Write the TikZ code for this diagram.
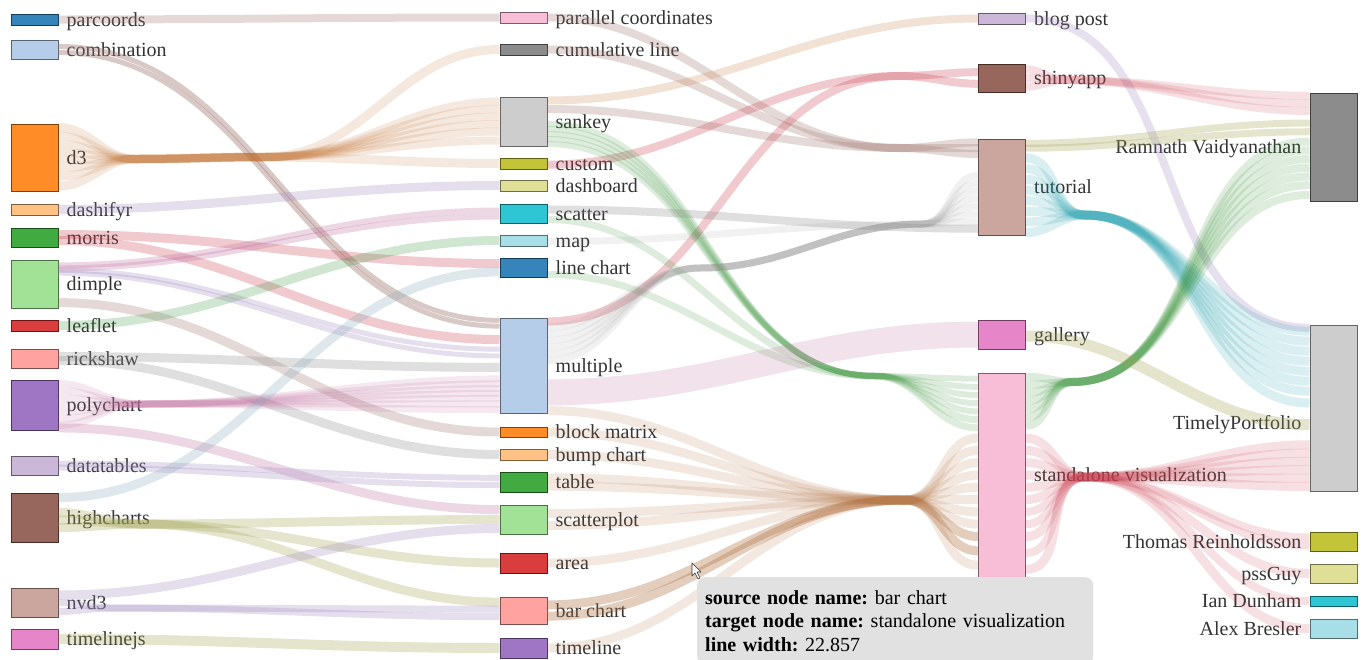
\documentclass[tikz,border=0pt]{standalone}
\usepackage{fontspec}
\setmainfont{Liberation Serif}
\usetikzlibrary{calc}
\frenchspacing
% node colours
\definecolor{c1}{HTML}{1F77B4}
\definecolor{c2}{HTML}{AEC7E8}
\definecolor{c3}{HTML}{FF7F0E}
\definecolor{c4}{HTML}{FFBB78}
\definecolor{c5}{HTML}{2CA02C}
\definecolor{c6}{HTML}{98DF8A}
\definecolor{c7}{HTML}{D62728}
\definecolor{c8}{HTML}{FF9896}
\definecolor{c9}{HTML}{9467BD}
\definecolor{c10}{HTML}{C5B0D5}
\definecolor{c11}{HTML}{8C564B}
\definecolor{c12}{HTML}{C49C94}
\definecolor{c13}{HTML}{E377C2}
\definecolor{c14}{HTML}{F7B6D2}
\definecolor{c15}{HTML}{7F7F7F}
\definecolor{c16}{HTML}{C7C7C7}
\definecolor{c17}{HTML}{BCBD22}
\definecolor{c18}{HTML}{DBDB8D}
\definecolor{c19}{HTML}{17BECF}
\definecolor{c20}{HTML}{9EDAE5}
% link colours
\definecolor{lktaupe}{HTML}{A07870}
\definecolor{lkorange}{HTML}{C07030}
\definecolor{lkpurple}{HTML}{A088C0}
\definecolor{lkpink}{HTML}{C070A0}
\definecolor{lkred}{HTML}{C84050}
\definecolor{lkgreen}{HTML}{2E8B2E}
\definecolor{lkgray}{HTML}{8C8C8C}
\definecolor{lkblue}{HTML}{88AABB}
\definecolor{lkolive}{HTML}{A0A050}
\definecolor{lkcyan}{HTML}{1A9AA8}
\definecolor{lkbrown}{HTML}{B07040}
\definecolor{tipgray}{HTML}{E1E1E1}
\tikzset{
    %Define style for node boxes
    box/.style={
           rectangle,
           draw=#1!50!black, line width=1pt,
           fill=#1!90,
           minimum width=47pt,
           inner sep=0pt},
    %Define style for node names
    lbl/.style={
           font=\fontsize{20}{24}\selectfont,
           text=black!80,
           inner sep=0pt,
           text height=1.4em,
           text depth=0.1em},
    % Define link styles
    flow/.style={draw=#1, draw opacity=0.28, line cap=butt},
    fanflow/.style={draw=#1, draw opacity=0.16, line cap=butt},
    % Define style for the tooltip
    tip/.style={
           rectangle,
           rounded corners=8pt,
           fill=tipgray,
           font=\fontsize{20}{23.5}\selectfont,
           text width=380pt,
           align=left,
           inner xsep=8pt,
           inner ysep=13pt},
}
% link from node to node
\newcommand\band[5][]{%
  \draw[#1] ($(#2.north east)!#3!(#2.south east)$) to[out=0,in=180]
    ($(#4.north west)!#5!(#4.south west)$);}
% link through one bundle point
\newcommand\strand[6][]{%
  \draw[#1] ($(#2.north east)!#3!(#2.south east)$) to[out=0,in=180] (#4)
    to[out=0,in=180] ($(#5.north west)!#6!(#5.south west)$);}
% link through two bundle points
\newcommand\strandd[7][]{%
  \draw[#1] ($(#2.north east)!#3!(#2.south east)$) to[out=0,in=180] (#4)
    to[out=0,in=180] (#5) to[out=0,in=180] ($(#6.north west)!#7!(#6.south west)$);}

\begin{document}
\begin{tikzpicture}[x=1pt, y=-1pt, label distance=8pt]
  \useasboundingbox (0,0) rectangle (1362,659);
  % libraries
  \node[box=c1, minimum height=11pt, label={[lbl]right:parcoords}] (parcoords) at (34.5,19.5) {};
  \node[box=c2, minimum height=19pt, label={[lbl]right:combination}] (combination) at (34.5,49.5) {};
  \node[box=c3, minimum height=67pt, label={[lbl]right:d3}] (d3) at (34.5,157.5) {};
  \node[box=c4, minimum height=11pt, label={[lbl]right:dashifyr}] (dashifyr) at (34.5,209.5) {};
  \node[box=c5, minimum height=19pt, label={[lbl]right:morris}] (morris) at (34.5,237.5) {};
  \node[box=c6, minimum height=48pt, label={[lbl]right:dimple}] (dimple) at (34.5,284) {};
  \node[box=c7, minimum height=11pt, label={[lbl]right:leaflet}] (leaflet) at (34.5,325.5) {};
  \node[box=c8, minimum height=19pt, label={[lbl]right:rickshaw}] (rickshaw) at (34.5,358.5) {};
  \node[box=c9, minimum height=50pt, label={[lbl]right:polychart}] (polychart) at (34.5,405) {};
  \node[box=c10, minimum height=19pt, label={[lbl]right:datatables}] (datatables) at (34.5,465.5) {};
  \node[box=c11, minimum height=49pt, label={[lbl]right:highcharts}] (highcharts) at (34.5,517.5) {};
  \node[box=c12, minimum height=29pt, label={[lbl]right:nvd3}] (nvd3) at (34.5,602.5) {};
  \node[box=c13, minimum height=20pt, label={[lbl]right:timelinejs}] (timelinejs) at (34.5,639) {};
  % chart types
  \node[box=c14, minimum height=11pt, label={[lbl]right:parallel coordinates}] (parallel) at (523.5,17.5) {};
  \node[box=c15, minimum height=11pt, label={[lbl]right:cumulative line}] (cumline) at (523.5,49.5) {};
  \node[box=c16, minimum height=49pt, label={[lbl]right:sankey}] (sankey) at (523.5,121.5) {};
  \node[box=c17, minimum height=11pt, label={[lbl]right:custom}] (custom) at (523.5,163.5) {};
  \node[box=c18, minimum height=11pt, label={[lbl]right:dashboard}] (dashboard) at (523.5,185.5) {};
  \node[box=c19, minimum height=19pt, label={[lbl]right:scatter}] (scatter) at (523.5,213.5) {};
  \node[box=c20, minimum height=11pt, label={[lbl]right:map}] (map) at (523.5,240.5) {};
  \node[box=c1, minimum height=19pt, label={[lbl]right:line chart}] (linechart) at (523.5,267.5) {};
  \node[box=c2, minimum height=95pt, label={[lbl]right:multiple}] (multiple) at (523.5,365.5) {};
  \node[box=c3, minimum height=10pt, label={[lbl]right:block matrix}] (blockmatrix) at (523.5,432) {};
  \node[box=c4, minimum height=11pt, label={[lbl]right:bump chart}] (bumpchart) at (523.5,454.5) {};
  \node[box=c5, minimum height=20pt, label={[lbl]right:table}] (table) at (523.5,482) {};
  \node[box=c6, minimum height=29pt, label={[lbl]right:scatterplot}] (scatterplot) at (523.5,519.5) {};
  \node[box=c7, minimum height=20pt, label={[lbl]right:area}] (area) at (523.5,563) {};
  \node[box=c8, minimum height=27pt, label={[lbl]right:bar chart}] (barchart) at (523.5,610.5) {};
  \node[box=c9, minimum height=20pt, label={[lbl]right:timeline}] (timeline) at (523.5,648) {};
  % kinds of post
  \node[box=c10, minimum height=11pt, label={[lbl]right:blog post}] (blogpost) at (1002,18.5) {};
  \node[box=c11, minimum height=28pt, label={[lbl]right:shinyapp}] (shinyapp) at (1002,78) {};
  \node[box=c12, minimum height=96pt, label={[lbl]right:tutorial}] (tutorial) at (1002,187) {};
  \node[box=c13, minimum height=29pt, label={[lbl]right:gallery}] (gallery) at (1002,334.5) {};
  \node[box=c14, minimum height=204pt, label={[lbl]right:standalone visualization}] (standalone) at (1002,475) {};
  % authors
  \node[box=c15, minimum height=108pt, label={[lbl]left:Ramnath Vaidyanathan}] (ramnath) at (1333.5,147) {};
  \node[box=c16, minimum height=166pt, label={[lbl,yshift=-15pt]left:TimelyPortfolio}] (timely) at (1333.5,408) {};
  \node[box=c17, minimum height=19pt, label={[lbl]left:Thomas Reinholdsson}] (thomas) at (1333.5,541.5) {};
  \node[box=c18, minimum height=19pt, label={[lbl]left:pssGuy}] (pssguy) at (1333.5,573.5) {};
  \node[box=c19, minimum height=10pt, label={[lbl]left:Ian Dunham}] (ian) at (1333.5,601) {};
  \node[box=c20, minimum height=19pt, label={[lbl]left:Alex Bresler}] (alex) at (1333.5,628.5) {};

  % bundle points
  \coordinate (bdthree) at (135,159);
  \coordinate (bdthreeb) at (265,157);
  \coordinate (bpoly) at (140,404);
  \coordinate (bhigh) at (140,524);
  \coordinate (bnvd) at (110,608);
  \coordinate (btaupe) at (900,148);
  \coordinate (bshiny) at (900,76);
  \coordinate (bgreen) at (875,376);
  \coordinate (bgray) at (700,268);
  \coordinate (bgrayb) at (922,224);
  \coordinate (bbrown) at (905,500);
  \coordinate (bshinyb) at (1065,80);
  \coordinate (bcyan) at (1085,215);
  \coordinate (bgreenb) at (1072,382);
  \coordinate (bred) at (1085,477);

  % libraries -> chart types
  \band[flow=lktaupe, line width=8pt]{parcoords}{0.5}{parallel}{0.5}
  \band[flow=lktaupe, line width=5pt, draw opacity=0.4]{combination}{0.35}{multiple}{0.03}
  \band[flow=lktaupe, line width=5pt, draw opacity=0.4]{combination}{0.65}{multiple}{0.09}
  \strandd[fanflow=lkorange, line width=9pt]{d3}{0.06}{bdthree}{bdthreeb}{cumline}{0.5}
  \foreach \s/\t in {0.18/0.1,0.3/0.25,0.42/0.4,0.54/0.55,0.66/0.7,0.78/0.88}{
    \strandd[fanflow=lkorange, line width=8pt]{d3}{\s}{bdthree}{bdthreeb}{sankey}{\t}}
  \strandd[fanflow=lkorange, line width=9pt]{d3}{0.92}{bdthree}{bdthreeb}{custom}{0.5}
  \band[flow=lkpurple, line width=9pt]{dashifyr}{0.5}{dashboard}{0.5}
  \band[flow=lkred, line width=9pt]{morris}{0.35}{linechart}{0.3}
  \band[flow=lkred, line width=9pt]{morris}{0.65}{multiple}{0.23}
  \band[flow=lkpink, line width=6pt]{dimple}{0.12}{scatter}{0.35}
  \band[flow=lkpink, line width=6pt]{dimple}{0.18}{scatter}{0.65}
  \band[flow=lkpurple, line width=5pt]{dimple}{0.22}{multiple}{0.33}
  \band[flow=lkpurple, line width=5pt]{dimple}{0.28}{multiple}{0.4}
  \band[flow=lktaupe, line width=9pt]{dimple}{0.88}{blockmatrix}{0.5}
  \band[flow=lkgreen, line width=9pt, draw opacity=0.22]{leaflet}{0.5}{map}{0.5}
  \band[flow=lkgray, line width=9pt]{rickshaw}{0.4}{multiple}{0.52}
  \band[flow=lkgray, line width=9pt]{rickshaw}{0.6}{bumpchart}{0.5}
  \foreach \s/\t in {0.08/0.64,0.22/0.69,0.36/0.74,0.5/0.79,0.64/0.84,0.78/0.9,0.9/0.96}{
    \strand[fanflow=lkpink, line width=7pt]{polychart}{\s}{bpoly}{multiple}{\t}}
  \band[flow=lkpink, line width=9pt]{polychart}{0.95}{scatterplot}{0.17}
  \band[flow=lkpurple, line width=6pt]{datatables}{0.4}{table}{0.3}
  \band[flow=lkpurple, line width=6pt]{datatables}{0.6}{table}{0.65}
  \band[flow=lkblue, line width=9pt]{highcharts}{0.1}{linechart}{0.72}
  \strand[flow=lkolive, line width=9pt]{highcharts}{0.4}{bhigh}{scatterplot}{0.5}
  \strand[flow=lkolive, line width=9pt]{highcharts}{0.55}{bhigh}{area}{0.5}
  \strand[flow=lkolive, line width=9pt]{highcharts}{0.7}{bhigh}{barchart}{0.2}
  \band[flow=lkpurple, line width=9pt]{nvd3}{0.25}{scatterplot}{0.8}
  \strand[flow=lkpurple, line width=7pt]{nvd3}{0.5}{bnvd}{barchart}{0.45}
  \strand[flow=lkpurple, line width=7pt]{nvd3}{0.8}{bnvd}{barchart}{0.72}
  \band[flow=lkolive, line width=10pt]{timelinejs}{0.5}{timeline}{0.5}

  % chart types -> kinds of post
  \strand[flow=lktaupe, line width=8pt]{parallel}{0.5}{btaupe}{tutorial}{0.04}
  \strand[flow=lktaupe, line width=8pt]{cumline}{0.5}{btaupe}{tutorial}{0.1}
  \strand[flow=lktaupe, line width=8pt]{sankey}{0.25}{btaupe}{tutorial}{0.16}
  \band[flow=lkorange, line width=8pt, draw opacity=0.2]{sankey}{0.08}{blogpost}{0.5}
  \strand[flow=lkred, line width=8pt]{custom}{0.6}{bshiny}{shinyapp}{0.3}
  \strand[flow=lkred, line width=8pt]{multiple}{0.04}{bshiny}{shinyapp}{0.7}
  \foreach \s/\t in {0.55/0.03,0.65/0.07,0.75/0.11,0.85/0.15,0.95/0.19}{
    \strand[fanflow=lkgreen, line width=6pt]{sankey}{\s}{bgreen}{standalone}{\t}}
  \strand[fanflow=lkgreen, line width=7pt]{scatter}{0.8}{bgreen}{standalone}{0.23}
  \strand[fanflow=lkgreen, line width=7pt]{linechart}{0.85}{bgreen}{standalone}{0.27}
  \band[flow=lkgray, line width=8pt]{scatter}{0.3}{tutorial}{0.93}
  \foreach \s/\t in {0.1/0.38,0.17/0.46,0.24/0.54,0.31/0.62,0.38/0.7,0.45/0.78}{
    \strandd[fanflow=lkgray, line width=7pt, draw opacity=0.12]{multiple}{\s}{bgray}{bgrayb}{tutorial}{\t}}
  \strand[fanflow=lkgray, line width=7pt, draw opacity=0.12]{map}{0.6}{bgrayb}{tutorial}{0.86}
  \band[flow=lkpink, line width=26pt, draw opacity=0.2]{multiple}{0.78}{gallery}{0.5}
  \foreach \n/\s/\t in {multiple/0.97/0.32,blockmatrix/0.5/0.38,bumpchart/0.5/0.44,
      table/0.3/0.5,table/0.7/0.56,scatterplot/0.3/0.62,scatterplot/0.7/0.68,
      area/0.5/0.74,timeline/0.5/0.94}{
    \strand[fanflow=lkbrown, line width=9pt]{\n}{\s}{bbrown}{standalone}{\t}}
  \strand[fanflow=lkbrown, line width=9pt, draw opacity=0.35]{barchart}{0.3}{bbrown}{standalone}{0.8}
  \strand[fanflow=lkbrown, line width=9pt, draw opacity=0.35]{barchart}{0.7}{bbrown}{standalone}{0.87}

  % kinds of post -> authors
  \band[flow=lkpurple, line width=8pt, draw opacity=0.25]{blogpost}{0.5}{timely}{0.02}
  \foreach \s/\t in {0.2/0.03,0.5/0.1,0.8/0.17}{
    \strand[fanflow=lkred, line width=8pt]{shinyapp}{\s}{bshinyb}{ramnath}{\t}}
  \band[flow=lkolive, line width=7pt]{tutorial}{0.05}{ramnath}{0.28}
  \band[flow=lkolive, line width=7pt]{tutorial}{0.1}{ramnath}{0.36}
  \foreach \s/\t in {0.2/0.04,0.31/0.1,0.42/0.16,0.53/0.22,0.64/0.28,0.75/0.34,0.86/0.4,0.97/0.47}{
    \strand[fanflow=lkcyan, line width=9pt]{tutorial}{\s}{bcyan}{timely}{\t}}
  \foreach \s/\t in {0.02/0.45,0.06/0.53,0.1/0.61,0.14/0.69,0.18/0.77,0.22/0.85,0.26/0.94}{
    \strand[fanflow=lkgreen, line width=8pt]{standalone}{\s}{bgreenb}{ramnath}{\t}}
  \band[flow=lkolive, line width=11pt]{gallery}{0.55}{timely}{0.6}
  \foreach \s/\t in {0.32/0.72,0.38/0.77,0.44/0.82,0.5/0.87,0.56/0.92,0.62/0.97}{
    \strand[fanflow=lkred, line width=9pt]{standalone}{\s}{bred}{timely}{\t}}
  \strand[fanflow=lkred, line width=8pt]{standalone}{0.68}{bred}{thomas}{0.3}
  \strand[fanflow=lkred, line width=8pt]{standalone}{0.74}{bred}{thomas}{0.7}
  \strand[fanflow=lkred, line width=9pt]{standalone}{0.8}{bred}{pssguy}{0.5}
  \strand[fanflow=lkred, line width=8pt]{standalone}{0.88}{bred}{ian}{0.5}
  \strand[fanflow=lkred, line width=9pt]{standalone}{0.96}{bred}{alex}{0.5}

  % tooltip and pointer
  \node[tip, anchor=north west] (tooltip) at (697,577)
    {\textbf{source node name:} bar chart\\
     \textbf{target node name:} standalone visualization\\
     \textbf{line width:} 22.857};
  \draw[fill=white, draw=black!80, line width=0.6pt, line join=round]
    (692,563) -- (692,576) -- (695,573) -- (698,579) -- (700,578)
    -- (697,572) -- (701,572) -- cycle;
\end{tikzpicture}
\end{document}
